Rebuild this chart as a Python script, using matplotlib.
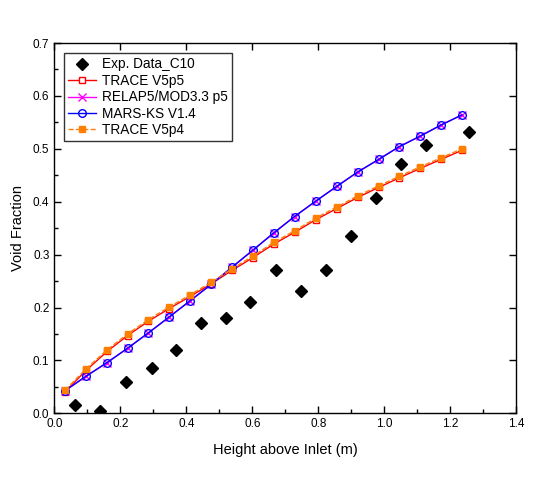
import matplotlib
matplotlib.use("Agg")
import matplotlib.pyplot as plt
from matplotlib.ticker import MultipleLocator

plt.rcParams['font.family'] = ['Liberation Sans', 'DejaVu Sans']

# Experimental data
exp_x = [0.063, 0.138, 0.217, 0.295, 0.368, 0.445, 0.519, 0.594, 0.673, 0.748,
         0.823, 0.898, 0.975, 1.052, 1.126, 1.258]
exp_y = [0.015, 0.004, 0.060, 0.086, 0.120, 0.171, 0.180, 0.210, 0.270, 0.231,
         0.270, 0.336, 0.407, 0.471, 0.507, 0.532]

# Code node heights
sim_x = [0.033, 0.096, 0.160, 0.222, 0.285, 0.348, 0.412, 0.476, 0.538, 0.601,
         0.665, 0.728, 0.792, 0.856, 0.919, 0.983, 1.045, 1.109, 1.172, 1.235]

trace_p4 = [0.044, 0.084, 0.120, 0.150, 0.177, 0.201, 0.224, 0.248, 0.273, 0.297,
            0.323, 0.345, 0.369, 0.390, 0.411, 0.430, 0.448, 0.466, 0.483, 0.500]
trace_p5 = [0.041, 0.081, 0.117, 0.147, 0.174, 0.198, 0.221, 0.245, 0.270, 0.294,
            0.320, 0.342, 0.366, 0.387, 0.408, 0.427, 0.445, 0.463, 0.480, 0.497]
mars = [0.043, 0.070, 0.096, 0.123, 0.152, 0.182, 0.213, 0.244, 0.276, 0.308,
        0.341, 0.372, 0.401, 0.429, 0.456, 0.480, 0.504, 0.524, 0.545, 0.564]
relap = [0.043, 0.070, 0.096, 0.123, 0.152, 0.182, 0.213, 0.244, 0.276, 0.308,
         0.341, 0.372, 0.401, 0.429, 0.456, 0.480, 0.504, 0.524, 0.545, 0.564]

fig = plt.figure(figsize=(5.46, 4.87), dpi=100)
ax = fig.add_axes([0.0995, 0.1513, 0.8461, 0.7604])

ax.plot(exp_x, exp_y, linestyle='none', marker='D', color='black', markersize=6,
        label='Exp. Data_C10', zorder=5)
ax.plot(sim_x, trace_p5, color='red', linewidth=1.0, marker='s', markersize=5,
        markerfacecolor='white', markeredgecolor='red', markeredgewidth=1.0,
        label='TRACE V5p5', zorder=3)
ax.plot(sim_x, relap, color='magenta', linewidth=1.0, marker='x', markersize=6,
        markeredgewidth=1.0, label='RELAP5/MOD3.3 p5', zorder=3)
ax.plot(sim_x, mars, color='blue', linewidth=1.0, marker='o', markersize=5.5,
        markerfacecolor='none', markeredgecolor='blue', markeredgewidth=1.0,
        label='MARS-KS V1.4', zorder=4)
ax.plot(sim_x, trace_p4, color='#ff7f0e', linewidth=1.0, linestyle='--',
        marker='s', markersize=5, markerfacecolor='#ff8000',
        markeredgecolor='#ff8000', label='TRACE V5p4', zorder=4)

ax.set_xlim(0, 1.4)
ax.set_ylim(0, 0.7)
ax.xaxis.set_major_locator(MultipleLocator(0.2))
ax.xaxis.set_minor_locator(MultipleLocator(0.1))
ax.yaxis.set_major_locator(MultipleLocator(0.1))
ax.yaxis.set_minor_locator(MultipleLocator(0.05))
ax.xaxis.set_major_formatter(matplotlib.ticker.FormatStrFormatter('%.1f'))
ax.yaxis.set_major_formatter(matplotlib.ticker.FormatStrFormatter('%.1f'))
ax.tick_params(which='major', direction='in', length=5, width=1,
               top=True, right=True, labelsize=8.5)
ax.tick_params(which='minor', direction='in', length=3, width=1,
               top=False, right=False)
for s in ax.spines.values():
    s.set_linewidth(1.0)

ax.set_xlabel('Height above Inlet (m)', fontsize=10.5, labelpad=9)
ax.set_ylabel('Void Fraction', fontsize=10.5, labelpad=6)

leg = ax.legend(loc='upper left', bbox_to_anchor=(0.0204, 0.972), fontsize=9.8,
                frameon=True, fancybox=False, edgecolor='black',
                handlelength=2.1, handletextpad=0.4, borderpad=0.3,
                labelspacing=0.18, borderaxespad=0.0)
leg.get_frame().set_linewidth(1.0)

fig.savefig('out.png', dpi=100)
